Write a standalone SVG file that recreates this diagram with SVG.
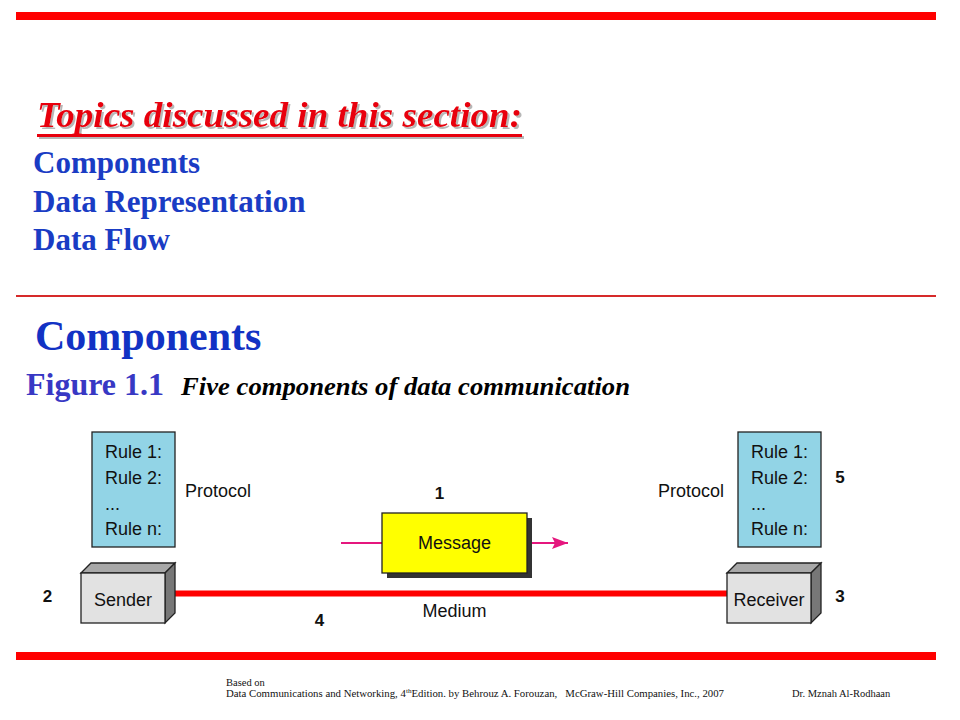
<svg xmlns="http://www.w3.org/2000/svg" width="960" height="720" viewBox="0 0 960 720">
<defs>
<style>
.serif{font-family:"Liberation Serif","Times New Roman",serif;}
.sans{font-family:"Liberation Sans",Arial,sans-serif;font-size:18px;fill:#111;}
.num{font-family:"Liberation Sans",Arial,sans-serif;font-size:17px;font-weight:bold;fill:#111;}
.list{font-family:"Liberation Serif","Times New Roman",serif;font-size:31px;font-weight:bold;fill:#1a3cc4;}
.proto{fill:#92d4e6;stroke:#222;stroke-width:1.3;}
.front{fill:#e2e2e2;stroke:#222;stroke-width:1.3;}
.top{fill:#a8a8a8;stroke:#222;stroke-width:1.3;}
.side{fill:#777;stroke:#222;stroke-width:1.3;}
.foot{font-family:"Liberation Serif","Times New Roman",serif;font-size:10.5px;fill:#111;}
</style>
<filter id="shadow" x="-5%" y="-20%" width="110%" height="150%">
<feDropShadow dx="2" dy="2" stdDeviation="0.6" flood-color="#999" flood-opacity="0.7"/>
</filter>
<marker id="arrow" viewBox="0 0 16 12" refX="16" refY="6" markerWidth="16" markerHeight="12" markerUnits="userSpaceOnUse" orient="auto">
<path d="M0,0 L16,6 L0,12 L3,6 z" fill="#e5177e"/>
</marker>
</defs>
<rect width="960" height="720" fill="#fff"/>

<!-- slide chrome -->
<rect x="16" y="12" width="920" height="8" fill="#ff0000"/>
<rect x="16" y="295" width="920" height="2" fill="#d62a2a"/>
<rect x="16" y="652" width="920" height="8" fill="#ff0000"/>

<!-- title -->
<g id="title" filter="url(#shadow)">
<text x="37" y="127" class="serif" font-size="35" font-weight="bold" font-style="italic" fill="#e8000b" textLength="485" lengthAdjust="spacingAndGlyphs">Topics discussed in this section:</text>
<rect x="37" y="134" width="485" height="3" fill="#e8000b"/>
</g>

<g id="topics">
<text x="33" y="173" class="list">Components</text>
<text x="33" y="212" class="list">Data Representation</text>
<text x="33" y="250" class="list">Data Flow</text>
</g>

<g id="heading">
<text x="35" y="350" class="serif" font-size="42" font-weight="bold" fill="#1232c4">Components</text>
<text x="26" y="395" class="serif" font-size="32" font-weight="bold" fill="#3838c4">Figure 1.1</text>
<text x="181" y="395" class="serif" font-size="25.5" font-weight="bold" font-style="italic" fill="#000" textLength="449" lengthAdjust="spacingAndGlyphs">Five components of data communication</text>
</g>

<!-- connectors -->
<g id="connectors">
<line x1="169" y1="593.5" x2="727" y2="593.5" stroke="#ff0000" stroke-width="6"/>
<line x1="341" y1="543" x2="382" y2="543" stroke="#e5177e" stroke-width="2"/>
<line x1="527" y1="543" x2="568" y2="543" stroke="#e5177e" stroke-width="2" marker-end="url(#arrow)"/>
</g>

<g id="protocol-left">
<rect x="92" y="432" width="83" height="115" class="proto"/>
<text x="105" y="458" class="sans">Rule 1:</text>
<text x="105" y="484" class="sans">Rule 2:</text>
<text x="105" y="510" class="sans">...</text>
<text x="105" y="535" class="sans">Rule n:</text>
<text x="185" y="497" class="sans">Protocol</text>
</g>

<g id="sender">
<polygon points="81,573 91,563 175,563 165,573" class="top"/>
<polygon points="165,573 175,563 175,613 165,623" class="side"/>
<rect x="81" y="573" width="84" height="50" class="front"/>
<text x="123" y="606" class="sans" text-anchor="middle">Sender</text>
</g>

<g id="message">
<rect x="387" y="518" width="145" height="60" fill="#333"/>
<rect x="382" y="513" width="145" height="60" fill="#ffff00" stroke="#222" stroke-width="1.3"/>
<text x="454.5" y="549" class="sans" text-anchor="middle">Message</text>
</g>

<g id="medium">
<text x="454.5" y="617" class="sans" text-anchor="middle">Medium</text>
</g>

<g id="protocol-right">
<rect x="738" y="432" width="83" height="115" class="proto"/>
<text x="751" y="458" class="sans">Rule 1:</text>
<text x="751" y="484" class="sans">Rule 2:</text>
<text x="751" y="510" class="sans">...</text>
<text x="751" y="535" class="sans">Rule n:</text>
<text x="658" y="497" class="sans">Protocol</text>
</g>

<g id="receiver">
<polygon points="727,573 737,563 821,563 811,573" class="top"/>
<polygon points="811,573 821,563 821,613 811,623" class="side"/>
<rect x="727" y="573" width="84" height="50" class="front"/>
<text x="769" y="606" class="sans" text-anchor="middle">Receiver</text>
</g>

<g id="labels">
<text x="439.5" y="499" class="num" text-anchor="middle">1</text>
<text x="47.5" y="602" class="num" text-anchor="middle">2</text>
<text x="840" y="602" class="num" text-anchor="middle">3</text>
<text x="319.5" y="626" class="num" text-anchor="middle">4</text>
<text x="840" y="483" class="num" text-anchor="middle">5</text>
</g>

<g id="footer">
<text x="226" y="686" class="foot">Based on</text>
<text x="226" y="697" class="foot" textLength="498" lengthAdjust="spacingAndGlyphs">Data Communications and Networking, 4<tspan font-size="7" dy="-4">th</tspan><tspan dy="4">Edition. by Behrouz A. Forouzan, &#160; McGraw-Hill Companies, Inc., 2007</tspan></text>
<text x="792" y="697" class="foot">Dr. Mznah Al-Rodhaan</text>
</g>
</svg>
